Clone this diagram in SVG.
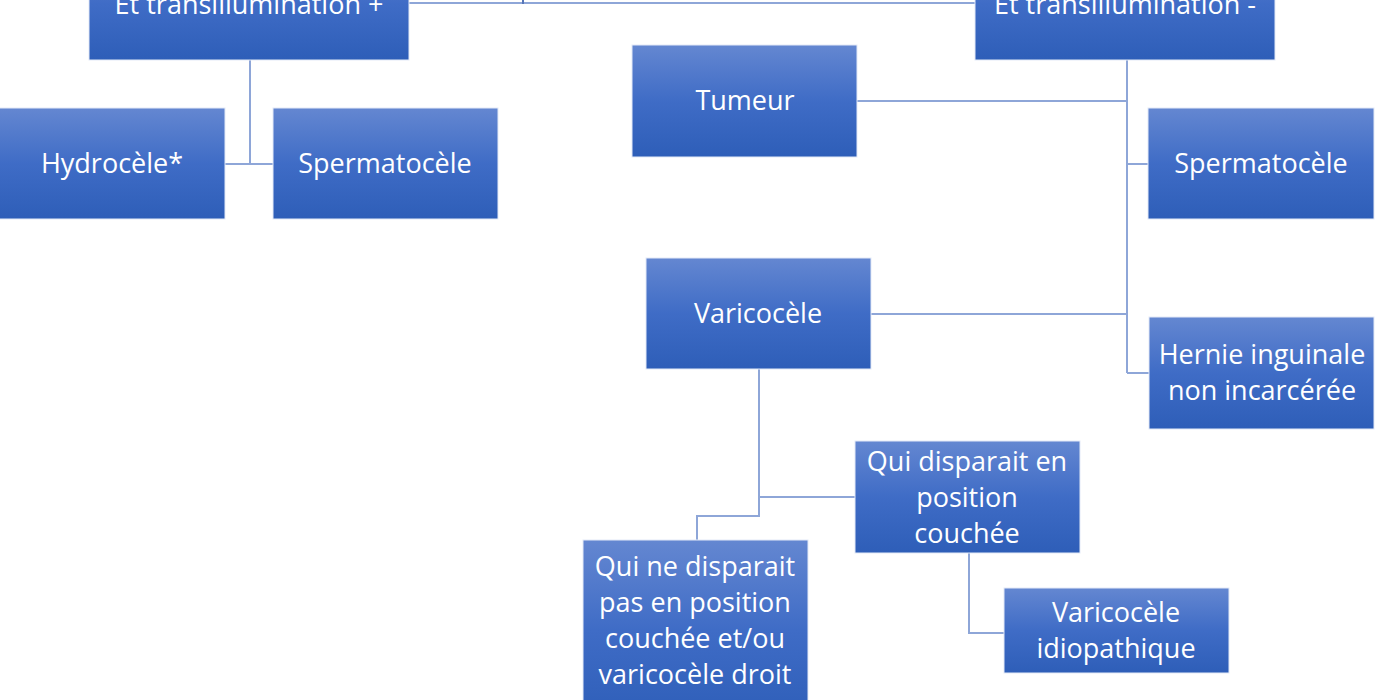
<svg xmlns="http://www.w3.org/2000/svg" width="1400" height="700" viewBox="0 0 1400 700">
<defs>
<linearGradient id="g" x1="0" y1="0" x2="0" y2="1">
<stop offset="0" stop-color="#6487D1"/>
<stop offset="0.5" stop-color="#3F6CC6"/>
<stop offset="1" stop-color="#2E5EB8"/>
</linearGradient>
<style>
.box{fill:url(#g);stroke:#E3EAF7;stroke-width:1}
.t{font-family:"Open Sans","Liberation Sans",sans-serif;font-size:27px;fill:#FFFFFF;text-anchor:middle}
.c{fill:none;stroke:#8EA6D8;stroke-width:2}
</style>
</defs>
<rect width="1400" height="700" fill="#FFFFFF"/>
<g id="connectors">
<path class="c" d="M409 3 H975"/>
<path d="M523 0 V4" stroke="#5676B8" stroke-width="2"/>
<path class="c" d="M250 60 V164 M225 164 H273"/>
<path class="c" d="M1127 60 V373 M857 101 H1127 M1127 164 H1148 M871 314 H1127 M1127 373 H1149"/>
<path class="c" d="M759 369 V497 H855 M759 497 V516 H697 V540"/>
<path class="c" d="M969 553 V633 H1004"/>
</g>
<g id="n-trans-plus"><rect class="box" x="89" y="-52" width="320" height="112"/><text class="t" x="249" y="14">Et transillumination +</text></g>
<g id="n-trans-minus"><rect class="box" x="975" y="-52" width="300" height="112"/><text class="t" x="1125" y="14">Et transillumination -</text></g>
<g id="n-hydrocele"><rect class="box" x="-1" y="108" width="226" height="111"/><text class="t" x="112" y="173">Hydrocèle*</text></g>
<g id="n-sperm-left"><rect class="box" x="273" y="108" width="225" height="111"/><text class="t" x="385" y="173">Spermatocèle</text></g>
<g id="n-tumeur"><rect class="box" x="632" y="45" width="225" height="112"/><text class="t" x="745" y="110">Tumeur</text></g>
<g id="n-sperm-right"><rect class="box" x="1148" y="108" width="226" height="111"/><text class="t" x="1261" y="173">Spermatocèle</text></g>
<g id="n-varicocele"><rect class="box" x="646" y="258" width="225" height="111"/><text class="t" x="758" y="323">Varicocèle</text></g>
<g id="n-hernie"><rect class="box" x="1149" y="317" width="225" height="112"/><text class="t" x="1262" y="364">Hernie inguinale</text><text class="t" x="1262" y="400">non incarcérée</text></g>
<g id="n-disparait"><rect class="box" x="855" y="441" width="225" height="112"/><text class="t" x="967" y="471">Qui disparait en</text><text class="t" x="967" y="507">position</text><text class="t" x="967" y="543">couchée</text></g>
<g id="n-ne-disparait"><rect class="box" x="583" y="540" width="225" height="180"/><text class="t" x="695" y="576">Qui ne disparait</text><text class="t" x="695" y="612">pas en position</text><text class="t" x="695" y="648">couchée et/ou</text><text class="t" x="695" y="684">varicocèle droit</text></g>
<g id="n-idiopathique"><rect class="box" x="1004" y="588" width="225" height="85"/><text class="t" x="1116" y="622">Varicocèle</text><text class="t" x="1116" y="658">idiopathique</text></g>
</svg>
